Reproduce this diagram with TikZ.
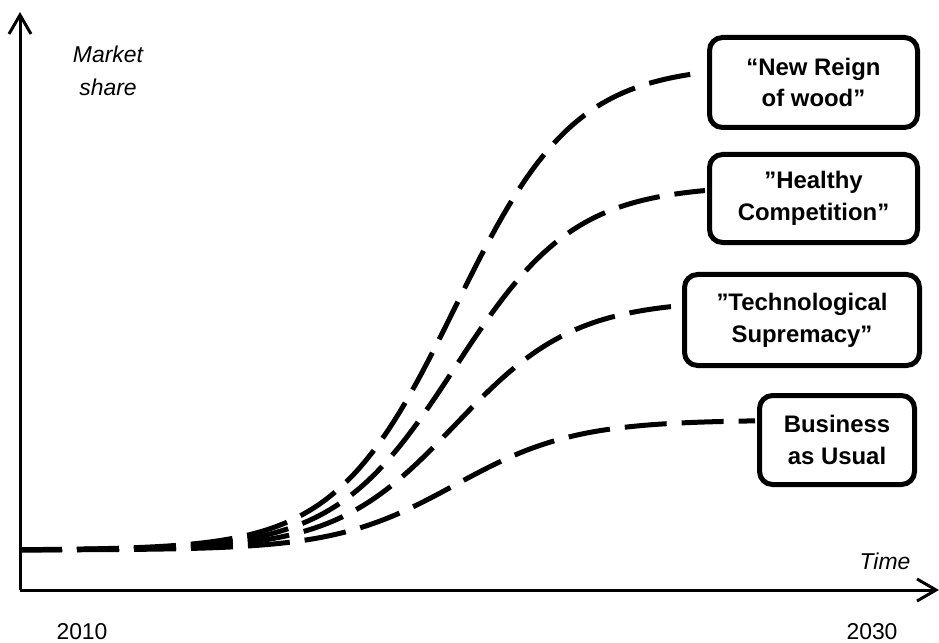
\documentclass[tikz,border=0pt]{standalone}
\usepackage{fontspec}
\setmainfont{Liberation Sans}
\usetikzlibrary{arrows.meta}

\begin{document}
\begin{tikzpicture}[x=1bp,y=1bp,
  axis/.style={line width=3bp,-{Straight Barb[length=19bp,width=22bp,line width=3bp]}},
  trend/.style={line width=5bp,dash pattern=on 42bp off 15bp},
  scenario/.style={draw,line width=5bp,rounded corners=13bp,align=center,
    font=\fontsize{24}{32}\selectfont\bfseries,inner sep=0pt},
  label/.style={font=\fontsize{23}{33}\selectfont,align=center}]
  \useasboundingbox (0,0) rectangle (939,-643);
  % axes
  \coordinate (corner) at (20,-590);
  \coordinate (ytip) at (20,-12);
  \coordinate (xtip) at (939,-590);
  \draw [axis] (corner) -- (ytip);
  \draw [axis] (corner) -- (xtip);
  \node (share) at (108,-71) [label] {\itshape Market\\\itshape share};
  \node (time) at (885,-569) [label,anchor=base] {\itshape Time};
  \node (y2010) at (82,-639) [label,anchor=base] {2010};
  \node (y2030) at (872,-639) [label,anchor=base] {2030};
  % scenarios
  \node (wood) at (813.5,-82.5) [scenario,minimum width=208bp,minimum height=90bp] {“New Reign\\of wood”};
  \node (healthy) at (813.5,-198.5) [scenario,minimum width=208bp,minimum height=88bp] {”Healthy\\Competition”};
  \node (techno) at (802,-320) [scenario,minimum width=235bp,minimum height=91bp] {”Technological\\Supremacy”};
  \node (usual) at (837,-440) [scenario,minimum width=155bp,minimum height=89bp] {Business\\as Usual};
  % growth curves
  \draw [trend] plot[domain=20:705,samples=120] (\x,{-550+485/(1+exp(-(\x-455)/60))});
  \draw [trend] plot[domain=20:705,samples=120] (\x,{-550+365/(1+exp(-(\x-455)/60))});
  \draw [trend] plot[domain=20:682,samples=120] (\x,{-550+250/(1+exp(-(\x-455)/60))});
  \draw [trend] plot[domain=20:755,samples=120] (\x,{-550+130/(1+exp(-(\x-455)/60))});
\end{tikzpicture}
\end{document}
